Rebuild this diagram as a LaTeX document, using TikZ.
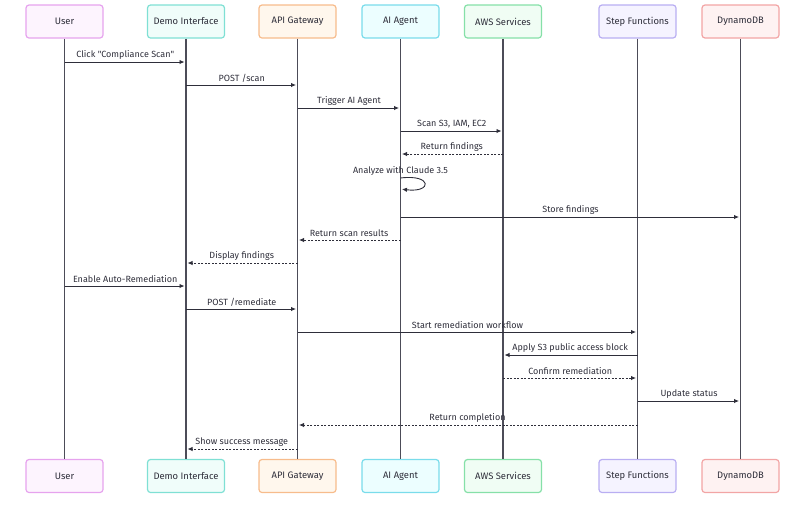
\documentclass[tikz,border=0pt]{standalone}
\usepackage{fontspec}
\setmainfont{Fira Sans}
\usetikzlibrary{arrows.meta,positioning,calc}
\definecolor{seqink}{HTML}{2E2E3A}
\definecolor{seqlife}{HTML}{4C4C58}
\definecolor{userdraw}{HTML}{E6A3EE}
\definecolor{userfill}{HTML}{FDF4FE}
\definecolor{demodraw}{HTML}{7FE0D4}
\definecolor{demofill}{HTML}{F0FDFA}
\definecolor{apidraw}{HTML}{F7BC8C}
\definecolor{apifill}{HTML}{FFF7ED}
\definecolor{agentdraw}{HTML}{7ADCEB}
\definecolor{agentfill}{HTML}{ECFEFF}
\definecolor{awsdraw}{HTML}{86E0A8}
\definecolor{awsfill}{HTML}{F0FDF4}
\definecolor{stepdraw}{HTML}{B9AEF2}
\definecolor{stepfill}{HTML}{F5F3FF}
\definecolor{ddbdraw}{HTML}{F2A5A5}
\definecolor{ddbfill}{HTML}{FEF2F2}

\begin{document}
\begin{tikzpicture}[x=1pt,y=-1pt,
  every node/.style={font=\fontsize{9}{11}\selectfont,text=seqink},
  P/.style={draw=#1draw,fill=#1fill,line width=1.2pt,rounded corners=3pt,
            minimum width=77pt,minimum height=33pt,inner sep=0pt,
            font=\fontsize{9.4}{11}\selectfont},
  life/.style={seqlife,line width=1.1pt},
  ar/.style={-{Latex[length=5pt,width=4.5pt]},seqink,line width=0.9pt,
             shorten >=1.5pt},
  ad/.style={ar,dash pattern=on 2pt off 1.5pt},
  lbl/.style={above=2.5pt,inner sep=0pt}
]
\useasboundingbox (0,0) rectangle (806,515);

% participants, top and bottom, with their lifelines
\foreach \n/\x/\t/\c in {u/64.5/User/user,d/186/Demo Interface/demo,
    g/297.5/API Gateway/api,a/400.5/AI Agent/agent,w/503/AWS Services/aws,
    s/637.5/Step Functions/step,db/740.5/DynamoDB/ddb}{
  \node[P=\c](top\n) at (\x,21.5) {\t};
  \node[P=\c](bot\n) at (\x,476) {\t};
  \draw[life](top\n)--(bot\n);
}

% scan
\draw[ar](topu|-0,62)--node[lbl]{Click \textquotedbl Compliance Scan\textquotedbl}(topd|-0,62);
\draw[ar](topd|-0,85)--node[lbl]{POST /scan}(topg|-0,85);
\draw[ar](topg|-0,108)--node[lbl]{Trigger AI Agent}(topa|-0,108);
\draw[ar](topa|-0,131)--node[lbl]{Scan S3, IAM, EC2}(topw|-0,131);
\draw[ad](topw|-0,154)--node[lbl]{Return findings}(topa|-0,154);
\draw[ar](topa|-0,178) node[lbl](think){Analyze with Claude 3.5}
     .. controls +(32,-4) and +(32,4) .. (topa|-0,189);
\draw[ar](topa|-0,217)--node[lbl]{Store findings}(topdb|-0,217);
\draw[ad](topa|-0,240)--node[lbl]{Return scan results}(topg|-0,240);
\draw[ad](topg|-0,263)--node[lbl]{Display findings}(topd|-0,263);

% remediation
\draw[ar](topu|-0,286)--node[lbl]{Enable Auto-Remediation}(topd|-0,286);
\draw[ar](topd|-0,309)--node[lbl]{POST /remediate}(topg|-0,309);
\draw[ar](topg|-0,332)--node[lbl]{Start remediation workflow}(tops|-0,332);
\draw[ar](tops|-0,355)--node[lbl]{Apply S3 public access block}(topw|-0,355);
\draw[ad](topw|-0,378)--node[lbl]{Confirm remediation}(tops|-0,378);
\draw[ar](tops|-0,401)--node[lbl]{Update status}(topdb|-0,401);
\draw[ad](tops|-0,425)--node[lbl]{Return completion}(topg|-0,425);
\draw[ad](topg|-0,449)--node[lbl]{Show success message}(topd|-0,449);
\end{tikzpicture}
\end{document}
